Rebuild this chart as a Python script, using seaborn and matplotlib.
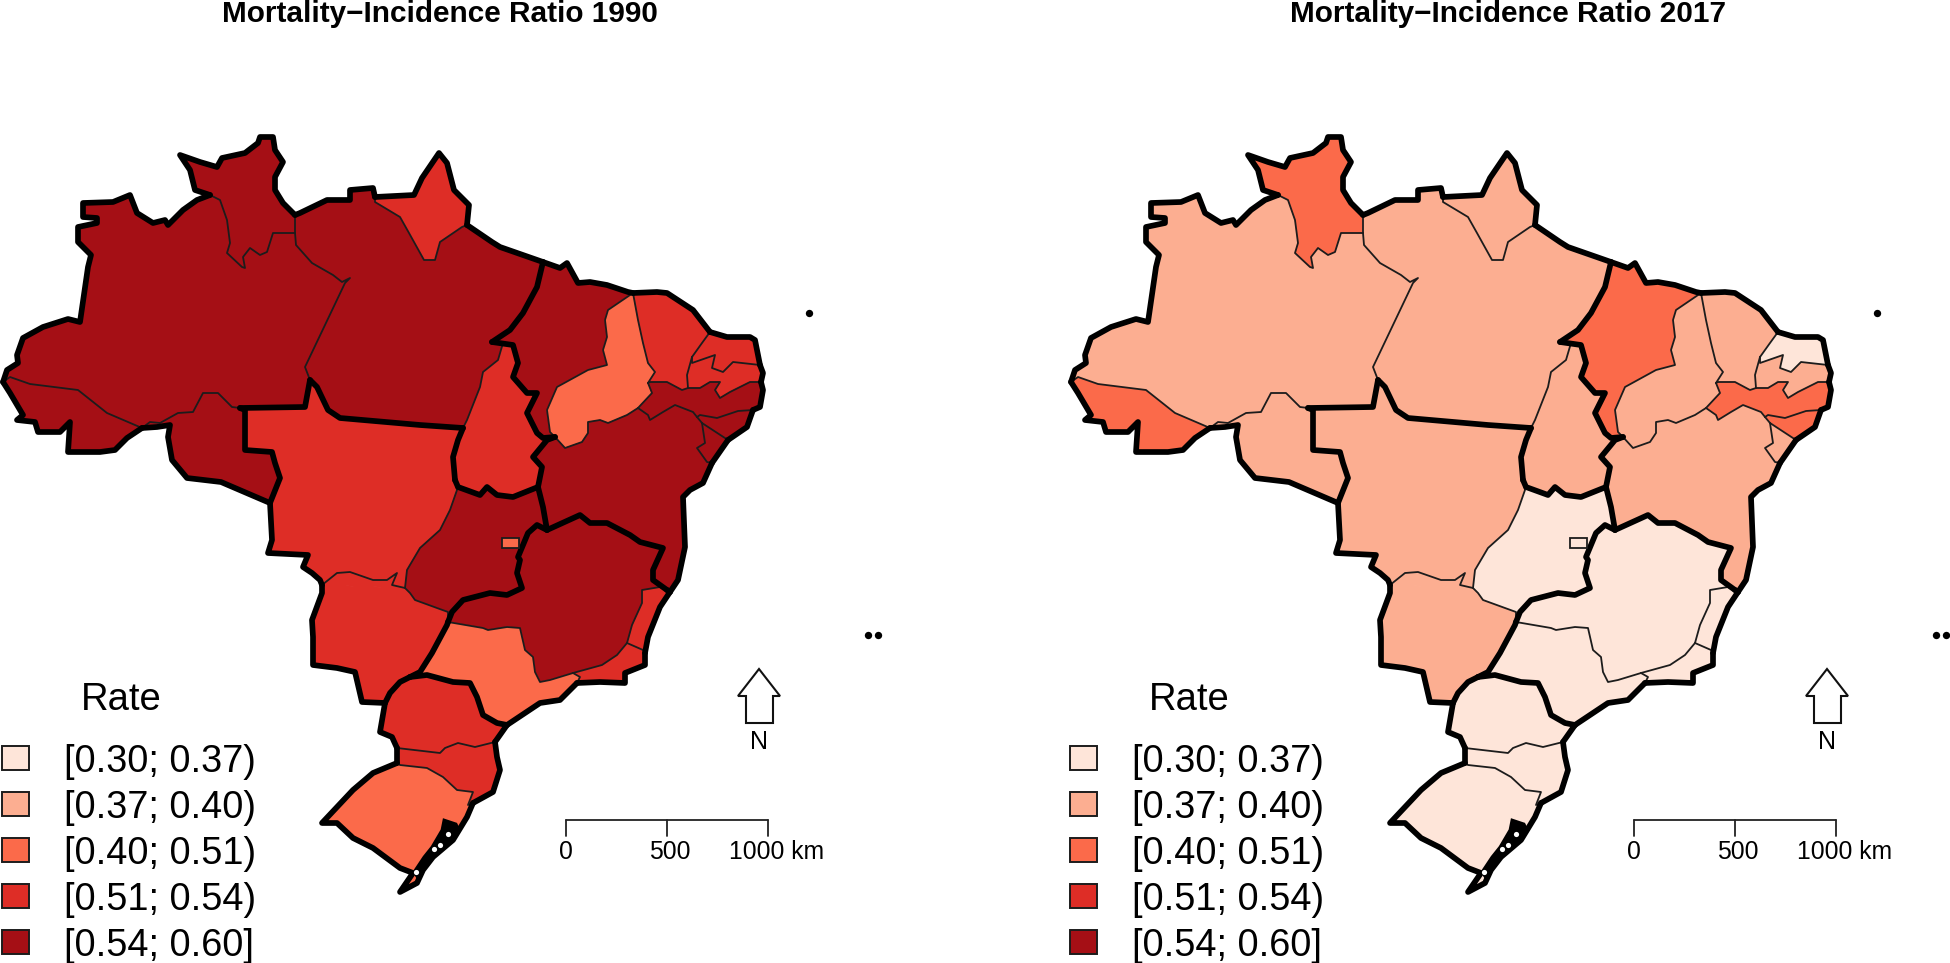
import pandas as pd
import matplotlib
matplotlib.use("Agg")
import matplotlib.pyplot as plt
from matplotlib.patches import Polygon, Rectangle
import seaborn as sns

# state borders (map units), shared between neighbours
ac_am = [(3,382),(10,377),(30,384),(78,390),(107,413),(142,428)]
ac_south = [(3,382),(10,393),(23,415),(17,420),(35,422),(38,432),(60,432),(70,422),(68,452),(78,452),(100,452),(115,450),(127,438),(142,428)]
am_north = [(3,382),(7,370),(18,363),(17,355),(23,338),(43,327),(68,319),(80,322),(88,267),(91,255),(78,242),(78,227),(97,223),(97,218),(83,217),(83,203),(113,202),(130,195),(137,213),(153,223),(165,220),(168,225),(183,210),(197,200),(210,195)]
rr_north = [(210,195),(195,190),(190,170),(180,155),(200,162),(217,167),(222,158),(245,153),(258,143),(260,137),(273,137),(275,150),(283,162),(275,177),(275,190),(283,203),(295,215)]
am_rr = [(210,195),(220,200),(227,220),(230,243),(227,253),(242,267),(245,268),(243,257),(250,248),(260,255),(267,252),(273,233),(295,233)]
rr_pa = [(295,233),(295,215)]
am_pa = [(295,233),(296,245),(312,263),(333,275),(342,282),(350,278),(345,283),(305,367),(310,380)]
am_ro = [(142,428),(150,422),(160,423),(178,413),(193,412),(203,393),(218,393),(232,407),(240,408)]
am_mt = [(240,408),(305,407),(310,380)]
ro_south = [(142,428),(157,427),(170,425),(168,437),(172,460),(187,478),(221,482),(270,503)]
ro_mt = [(240,408),(245,410),(245,450),(272,452),(275,463),(280,478),(270,503)]
pa_north = [(295,215),(300,213),(327,200),(350,200),(350,190),(373,188),(375,197)]
ap_north = [(375,197),(414,195),(422,178),(439,153),(447,163),(454,190),(469,205),(467,225)]
ap_pa = [(375,197),(375,202),(400,217),(409,233),(424,260),(435,260),(440,242),(462,227),(467,225)]
pa_coast = [(467,225),(492,242),(500,247),(543,262)]
pa_ma = [(543,262),(537,287),(523,313),(510,330),(492,342)]
pa_to = [(492,342),(503,343),(498,360),(483,372),(480,387),(467,420),(463,428)]
pa_mt = [(310,380),(317,387),(328,410),(340,418),(420,425),(463,428)]
mt_to = [(463,428),(458,440),(453,457),(455,480)]
to_go = [(455,480),(458,487),(480,495),(487,487),(497,495),(513,497),(538,487)]
to_ma = [(492,342),(513,345),(518,363),(513,377),(527,393),(537,393),(527,413),(537,433),(543,438),(555,437)]
to_ba = [(555,437),(547,440),(533,457),(542,467),(538,487)]
go_ba = [(538,487),(543,507),(547,530)]
go_mg = [(547,530),(537,525),(528,533),(518,557),(520,560),(517,573),(522,588),(507,595),(490,593),(463,600),(452,612),(448,622)]
go_ms = [(448,622),(448,612),(415,600),(410,593),(405,588)]
mt_go = [(455,480),(457,490),(450,510),(440,530),(420,548),(407,570),(405,588)]
mt_ms = [(405,588),(392,585),(397,573),(387,580),(373,580),(350,572),(337,573),(322,585)]
mt_west = [(322,585),(320,580),(312,573),(303,567),(308,555),(268,553),(272,540),(270,503)]
ms_west = [(322,585),(322,593),(312,620),(313,637),(313,665),(337,668),(355,672),(362,702),(385,703)]
ms_pr = [(385,703),(390,693),(400,682),(410,677)]
ms_sp = [(410,677),(420,672),(432,653),(447,625),(448,622)]
sp_pr = [(507,725),(497,723),(483,715),(477,697),(470,683),(453,682),(427,675),(410,677)]
pr_coast = [(507,725),(495,742)]
pr_west = [(397,748),(392,737),(380,732),(385,703)]
pr_sc = [(397,748),(440,753),(445,748),(458,743),(475,747),(495,742)]
sc_west = [(397,763),(397,748)]
sc_coast = [(495,742),(497,757),(500,770),(493,792),(473,803)]
sc_rs = [(397,763),(400,765),(427,768),(443,777),(457,790),(473,792),(468,805),(473,803)]
rs_outer = [(473,803),(467,817),(453,840),(433,857),(423,870),(417,883),(400,892),(413,873),(400,868),(373,848),(353,838),(337,823),(322,823),(353,790),(373,773),(397,763)]
ma_coast = [(543,262),(560,268),(567,263),(578,283),(590,282),(607,285),(628,292),(633,293)]
ma_pi = [(633,293),(608,310),(605,320),(607,337),(603,350),(607,365),(588,370),(557,387),(547,410),(550,432),(555,437)]
pi_ce = [(633,293),(638,320),(643,343),(648,363),(655,372),(648,383)]
pi_pe = [(648,383),(652,393),(638,408)]
ba_pi = [(555,437),(565,448),(582,442),(588,433),(588,422),(600,420),(608,423),(627,415),(638,408)]
ce_coast = [(633,293),(657,292),(667,293),(693,310),(710,332)]
ce_rn = [(710,332),(702,343),(692,357)]
ce_pb = [(692,357),(687,375),(688,388)]
rn_coast = [(710,332),(727,337),(750,337),(755,340),(760,365)]
rn_pb = [(692,357),(692,363),(715,355),(712,368),(723,372),(733,362),(760,365)]
pb_coast = [(760,365),(763,373),(761,382)]
pe_pb = [(688,388),(700,388),(710,382),(720,382),(715,390),(720,398),(730,392),(750,382),(761,382)]
pe_ce = [(688,388),(682,390),(667,382),(650,382),(648,383)]
pe_coast = [(753,410),(760,407),(763,390),(761,382)]
ba_pe = [(638,408),(648,415),(650,420),(663,412),(675,405),(693,412),(697,417)]
al_pe = [(697,417),(700,415),(717,418),(738,411),(753,410)]
al_ba = [(697,417),(702,423)]
al_se = [(702,423),(728,440)]
al_coast = [(728,440),(747,427),(753,410)]
se_ba = [(702,423),(705,443),(697,448),(707,462),(712,463)]
se_coast = [(712,463),(728,440)]
ba_coast = [(712,463),(703,483),(690,490),(683,497),(685,547),(678,580),(670,592)]
ba_es = [(670,592),(667,590)]
ba_mg = [(547,530),(580,515),(590,523),(607,523),(630,535),(640,542),(663,548),(653,570),(653,580),(667,590)]
es_mg = [(667,590),(660,587),(642,590),(642,603),(632,625),(627,643)]
es_rj = [(627,643),(643,650),(645,653)]
es_coast = [(645,653),(648,637),(660,607),(670,592)]
mg_rj = [(627,643),(617,655),(602,665),(573,673)]
mg_sp = [(573,673),(550,680),(540,682),(535,672),(533,657),(525,650),(520,628),(507,627),(488,630),(483,628),(448,622)]
rj_coast = [(645,653),(645,665),(625,673),(625,683),(600,682),(577,683)]
rj_sp = [(573,673),(580,677),(577,683)]
sp_coast = [(577,683),(560,700),(540,703),(507,725)]
lagoa = [(444,820),(456,824),(458,828),(451,838),(433,854),(423,868),(418,878),(414,872),(424,857),(432,847),(442,830)]
df_border = [(502,538),(519,538),(519,548),(502,548)]

state_names = ["AC","AM","RR","RO","PA","AP","TO","MT","GO","DF","MS","MA","PI","CE","RN","PB","PE","AL","SE","BA","ES","MG","RJ","SP","PR","SC","RS"]
class_1990 = [4,4,4,4,4,3,3,3,4,2,3,4,2,3,3,3,4,4,4,4,3,4,3,2,3,3,2]
class_2017 = [2,1,2,1,1,1,1,1,0,0,1,2,1,1,0,1,2,2,1,1,0,0,0,0,0,0,0]
titles = ["Mortality\u2212Incidence Ratio 1990", "Mortality\u2212Incidence Ratio 2017"]
legend_labels = ["[0.30; 0.37)", "[0.37; 0.40)", "[0.40; 0.51)", "[0.51; 0.54)", "[0.54; 0.60]"]
class_colors = ["#FEE5D9", "#FCAE91", "#FB6A4A", "#DE2D26", "#A50F15"]
island_x = [809, 868, 878]
island_y = [313, 635, 635]
lagoon_spots_x = [448, 440, 434, 416]
lagoon_spots_y = [834, 845, 849, 872]
scale_km = [0, 500, 1000]

rings = {
    "AC": ["ac_am", "-ac_south"],
    "AM": ["am_north", "am_rr", "am_pa", "-am_mt", "-am_ro", "-ac_am"],
    "RR": ["rr_north", "-rr_pa", "-am_rr"],
    "RO": ["am_ro", "ro_mt", "-ro_south"],
    "PA": ["rr_pa", "pa_north", "ap_pa", "pa_coast", "pa_ma", "pa_to", "-pa_mt", "-am_pa"],
    "AP": ["ap_north", "-ap_pa"],
    "TO": ["-pa_to", "to_ma", "to_ba", "-to_go", "-mt_to"],
    "MT": ["am_mt", "pa_mt", "mt_to", "mt_go", "mt_ms", "mt_west", "-ro_mt"],
    "GO": ["to_go", "go_ba", "go_mg", "go_ms", "-mt_go"],
    "DF": ["df_border"],
    "MS": ["-mt_ms", "ms_west", "ms_pr", "ms_sp", "go_ms"],
    "MA": ["-pa_ma", "ma_coast", "ma_pi", "-to_ma"],
    "PI": ["-ma_pi", "pi_ce", "pi_pe", "-ba_pi"],
    "CE": ["ce_coast", "ce_rn", "ce_pb", "pe_ce", "-pi_ce"],
    "RN": ["-ce_rn", "rn_coast", "-rn_pb"],
    "PB": ["rn_pb", "pb_coast", "-pe_pb", "-ce_pb"],
    "PE": ["pe_ce", "pi_pe", "ba_pe", "al_pe", "pe_coast", "-pe_pb"],
    "AL": ["-al_pe", "al_ba", "al_se", "al_coast"],
    "SE": ["-al_se", "se_ba", "se_coast"],
    "BA": ["ba_pi", "ba_pe", "al_ba", "se_ba", "ba_coast", "ba_es", "-ba_mg", "-go_ba", "-to_ba"],
    "ES": ["es_mg", "es_rj", "es_coast", "ba_es"],
    "MG": ["ba_mg", "es_mg", "mg_rj", "mg_sp", "-go_mg"],
    "RJ": ["-mg_rj", "es_rj", "rj_coast", "-rj_sp"],
    "SP": ["-mg_sp", "rj_sp", "sp_coast", "sp_pr", "ms_sp"],
    "PR": ["-sp_pr", "pr_coast", "-pr_sc", "pr_west", "ms_pr"],
    "SC": ["pr_sc", "sc_coast", "-sc_rs", "sc_west"],
    "RS": ["sc_rs", "rs_outer"],
}
thin_arcs = ["ac_am","am_rr","am_pa","am_ro","rr_pa","ap_pa","pa_to","ma_pi","pi_ce","pi_pe","ba_pi","ce_rn","ce_pb","rn_pb","pe_ce","pe_pb","ba_pe","al_pe","al_ba","al_se","se_ba","es_mg","es_rj","mg_rj","rj_sp","mt_go","mt_ms","go_ms","mg_sp","pr_sc","sc_rs"]
thick_arcs = ["ac_south","am_north","rr_north","am_mt","ro_south","ro_mt","pa_north","ap_north","pa_coast","pa_ma","pa_mt","mt_to","to_go","to_ma","to_ba","go_ba","go_mg","mt_west","ms_west","ms_pr","ms_sp","sp_pr","pr_coast","pr_west","sc_west","sc_coast","rs_outer","ma_coast","ce_coast","rn_coast","pb_coast","pe_coast","al_coast","se_coast","ba_coast","ba_es","ba_mg","es_coast","rj_coast","sp_coast"]


def arc(name):
    if name.startswith("-"):
        return globals()[name[1:]][::-1]
    return globals()[name]


def ring(state):
    pts = []
    for name in rings[state]:
        pts += arc(name)
    return pts


def line(ax, name, lw, color="black"):
    xs, ys = zip(*arc(name))
    ax.plot(xs, ys, color=color, lw=lw, solid_capstyle="round", solid_joinstyle="round", zorder=3)


def draw_map(ax, title, classes):
    df = pd.DataFrame({"state": state_names, "cat": classes})
    for state, cat in zip(df["state"], df["cat"]):
        if state == "DF":
            continue
        ax.add_patch(Polygon(ring(state), closed=True, fc=palette[cat], ec=palette[cat], lw=0.5, zorder=1))
    for name in thin_arcs:
        line(ax, name, 1.3, "#1c1c1c")
    for name in thick_arcs:
        line(ax, name, 4.1)
    dfc = df.loc[df["state"] == "DF", "cat"].iloc[0]
    ax.add_patch(Polygon(ring("DF"), closed=True, fc=palette[dfc], ec="#1c1c1c", lw=1.3, zorder=4))
    # lagoon in the far south, black with small white spots
    ax.add_patch(Polygon(lagoa, closed=True, fc="black", ec="black", lw=2, zorder=4))
    sns.scatterplot(x=lagoon_spots_x, y=lagoon_spots_y, s=14, color="white", linewidth=0, ax=ax, zorder=5, legend=False)
    sns.scatterplot(x=island_x, y=island_y, s=28, color="black", linewidth=0, ax=ax, zorder=5, legend=False)

    ax.text(440, 22, title, ha="center", va="baseline", fontsize=21.4, fontweight="bold", color="black")
    ax.text(121, 700, "Rate", ha="center", va="center", fontsize=27.5, color="black")
    for i, lab in enumerate(legend_labels):
        y = 758 + 46 * i
        ax.add_patch(Rectangle((2, y - 12), 27, 24, fc=palette[i], ec="#1c1c1c", lw=1.4, zorder=2))
        ax.text(64, y + 14, lab, ha="left", va="baseline", fontsize=27.3, color="black")

    # scale bar, 1000 km = 202 map units
    sx = [566 + 0.2015 * km for km in scale_km]
    ax.plot([sx[0], sx[-1]], [820, 820], color="#222222", lw=1.3)
    for x in sx:
        ax.plot([x, x], [820, 836], color="#222222", lw=1.3)
    ax.text(566, 852, "0", ha="center", va="center", fontsize=17.8, color="black")
    ax.text(670, 852, "500", ha="center", va="center", fontsize=17.8, color="black")
    ax.text(729, 852, "1000 km", ha="left", va="center", fontsize=17.8, color="black")

    ax.add_patch(Polygon([(759, 669), (780, 696), (773, 696), (773, 723), (746, 723), (746, 696), (738, 696)],
                         closed=True, fc="white", ec="#111111", lw=1.5))
    ax.text(759, 742, "N", ha="center", va="center", fontsize=18, color="black")

    ax.set_xlim(0, 882)
    ax.set_ylim(963, 0)
    ax.axis("off")


sns.set_theme(style="white")
plt.rcParams["font.family"] = ["Liberation Sans", "DejaVu Sans"]
palette = sns.color_palette(class_colors)

fig = plt.figure(figsize=(19.5, 9.63), dpi=100)
ax1 = fig.add_axes([0, 0, 882 / 1950, 1])
ax2 = fig.add_axes([1068 / 1950, 0, 882 / 1950, 1])
draw_map(ax1, titles[0], class_1990)
draw_map(ax2, titles[1], class_2017)
fig.savefig("out.png", dpi=100)
